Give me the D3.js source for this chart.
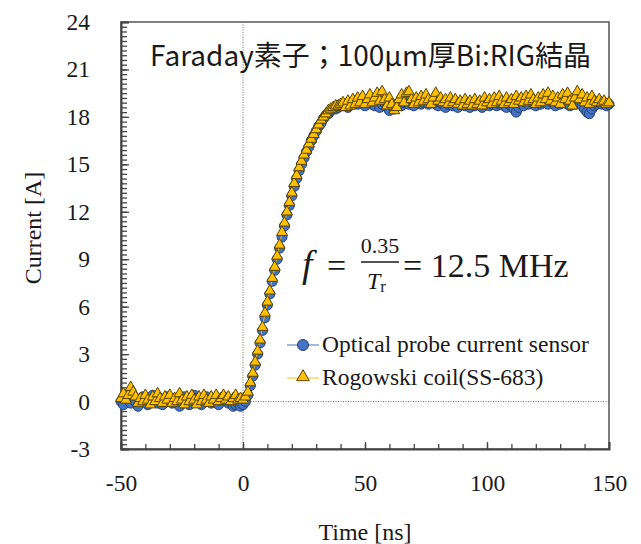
<!DOCTYPE html>
<html>
<head>
<meta charset="utf-8">
<script src="https://cdn.jsdelivr.net/npm/d3@7"></script>
<style>
  body { margin: 0; background: #fff; }
  svg text { fill: #1a1a1a; }
</style>
</head>
<body>
<div id="chart"></div>
<script>
// sample times, 1 ns step from -50 to 150
var timeNs = d3.range(-50, 151, 1);

// optical probe current sensor (blue circles), A
var opticalA = [
  0.0, -0.2, 0.3, 0.1, -0.1, 0.2, 0.0, -0.3, 0.1, 0.3,
  0.0, -0.2, 0.2, 0.4, 0.1, -0.1, 0.2, -0.2, 0.0, 0.3,
  0.1, -0.1, 0.2, 0.0, -0.3, 0.1, 0.3, 0.0, -0.2, 0.1,
  0.4, 0.2, 0.0, -0.2, 0.1, 0.3, 0.0, -0.1, 0.2, 0.0,
  -0.2, 0.1, 0.3, 0.1, -0.1, 0.0, -0.3, -0.2, -0.1, -0.3,
  -0.2, 0.0, 0.4, 1.0, 1.6, 2.3, 3.0, 3.7, 4.5, 5.3,
  6.1, 6.8, 7.6, 8.3, 9.0, 9.7, 10.4, 11.1, 11.8, 12.4,
  13.0, 13.6, 14.1, 14.6, 15.0, 15.4, 15.8, 16.1, 16.5, 16.8,
  17.1, 17.4, 17.6, 17.9, 18.1, 18.2, 18.4, 18.5, 18.5, 18.6,
  18.7, 18.7, 18.8, 18.6, 18.9, 18.8, 19.0, 18.8, 19.0, 18.9,
  18.7, 18.9, 19.0, 18.8, 18.7, 18.9, 18.6, 18.8, 18.9, 18.6,
  18.4, 18.7, 18.5, 18.8, 18.9, 18.7, 18.9, 19.0, 18.8, 18.9,
  18.7, 18.9, 19.0, 18.8, 18.9, 19.1, 18.8, 18.9, 19.0, 18.8,
  18.7, 18.9, 18.8, 18.6, 18.8, 18.9, 18.7, 18.8, 18.6, 18.8,
  18.9, 18.7, 18.8, 18.6, 18.8, 18.7, 18.9, 18.8, 18.6, 18.8,
  18.9, 18.7, 18.8, 18.9, 18.7, 18.8, 18.9, 18.7, 18.6, 18.8,
  18.7, 18.5, 18.3, 18.6, 18.8, 18.7, 18.9, 18.8, 19.0, 18.8,
  18.7, 18.9, 18.8, 19.0, 18.9, 18.8, 19.0, 18.9, 18.7, 18.9,
  18.8, 19.0, 18.9, 18.8, 18.7, 18.9, 18.8, 19.0, 18.9, 18.7,
  18.5, 18.3, 18.2, 18.5, 18.7, 18.8, 18.9, 18.8, 18.9, 18.7,
  18.8
];

// Rogowski coil SS-683 (gold triangles), A
var rogowskiA = [
  0.2, 0.5, 0.1, 0.4, 0.9, 0.6, 0.3, -0.1, 0.2, 0.0,
  0.4, 0.1, -0.2, 0.3, 0.0, 0.5, 0.2, -0.1, 0.3, 0.1,
  0.4, -0.1, 0.2, 0.0, 0.5, 0.1, -0.2, 0.3, 0.0, 0.4,
  0.1, -0.2, 0.3, 0.0, 0.4, 0.1, -0.1, 0.3, 0.1, 0.4,
  0.0, 0.2, 0.4, 0.1, 0.3, 0.0, 0.2, 0.4, 0.1, 0.2,
  0.1, 0.3, 0.6, 1.2, 1.8, 2.5, 3.2, 3.9, 4.7, 5.6,
  6.3, 7.0, 7.8, 8.5, 9.2, 9.9, 10.7, 11.3, 12.0, 12.6,
  13.2, 13.8, 14.3, 14.8, 15.2, 15.6, 15.9, 16.3, 16.6, 16.9,
  17.2, 17.5, 17.8, 18.0, 18.2, 18.4, 18.5, 18.6, 18.7, 18.7,
  18.8, 18.9, 18.6, 19.0, 18.7, 19.1, 18.8, 19.2, 18.9, 19.3,
  18.8, 19.1, 19.4, 18.9, 19.2, 19.5, 19.0, 19.6, 19.1, 18.7,
  19.2, 18.8, 18.4, 18.6, 19.1, 19.4, 18.9, 19.5, 19.6, 19.1,
  18.8, 19.2, 18.9, 19.3, 19.0, 19.4, 19.1, 18.8, 19.2, 19.5,
  19.0, 19.2, 18.9, 19.1, 18.8, 19.2, 18.9, 19.1, 18.8, 19.0,
  18.7, 19.1, 18.8, 19.0, 18.7, 19.1, 18.8, 19.0, 18.7, 19.2,
  18.9, 19.1, 18.8, 19.2, 18.9, 19.3, 19.0, 18.8, 19.2, 18.9,
  19.1, 18.8, 19.3, 19.0, 19.2, 18.9, 19.3, 19.0, 19.4, 19.1,
  18.8, 19.2, 18.9, 19.4, 19.1, 19.5, 19.0, 19.3, 18.9, 19.2,
  18.8, 19.4, 19.1, 19.5, 19.0, 18.7, 19.2, 19.6, 19.1, 19.4,
  18.9, 19.2, 18.8, 19.3, 19.0, 18.9, 19.1, 18.9, 19.0, 18.8,
  18.9
];

var xTicks = [-50, 0, 50, 100, 150];
var yTicks = [-3, 0, 3, 6, 9, 12, 15, 18, 21, 24];
var seriesNames = ["Optical probe current sensor", "Rogowski coil(SS-683)"];

var W = 641, H = 544;
var serif = "'Liberation Serif', 'Times New Roman', serif";
var blue = "#4472C4", blueEdge = "#24416f";
var gold = "#FFC000", goldEdge = "#5a4400";

var svg = d3.select("#chart").append("svg")
    .attr("width", W).attr("height", H);

var x = d3.scaleLinear().domain([-50, 150]).range([121, 609]);
var y = d3.scaleLinear().domain([-3, 24]).range([449, 22]);

// frame
svg.append("rect")
    .attr("x", x(-50)).attr("y", y(24))
    .attr("width", x(150) - x(-50)).attr("height", y(-3) - y(24))
    .attr("fill", "none").attr("stroke", "#555").attr("stroke-width", 1.5);

// dotted reference lines at t=0 and I=0
svg.append("line")
    .attr("x1", x(0)).attr("x2", x(0)).attr("y1", y(24)).attr("y2", y(-3))
    .attr("stroke", "#666").attr("stroke-width", 1).attr("stroke-dasharray", "1,1.5");
svg.append("line")
    .attr("x1", x(0)).attr("x2", x(150)).attr("y1", y(0)).attr("y2", y(0))
    .attr("stroke", "#666").attr("stroke-width", 1).attr("stroke-dasharray", "1,1.5");

// y axis: minor ticks then labelled major ticks
svg.append("g").attr("transform", "translate(" + x(-50) + ",0)")
    .call(d3.axisLeft(y).tickValues(d3.range(-3, 24.01, 0.3)).tickSize(-6).tickFormat(""))
    .call(g => g.select(".domain").remove())
    .selectAll("line").attr("stroke", "#444").attr("stroke-width", 1.3);

var yAxis = svg.append("g").attr("transform", "translate(" + x(-50) + ",0)")
    .call(d3.axisLeft(y).tickValues(yTicks).tickSize(-8).tickPadding(31).tickFormat(d => String(d)));
yAxis.select(".domain").attr("stroke", "#444").attr("stroke-width", 2);
yAxis.selectAll("line").attr("stroke", "#444").attr("stroke-width", 1.3);
yAxis.selectAll("text").attr("font-family", serif).attr("font-size", 23.5).attr("fill", "#1a1a1a");

// x axis
svg.append("g").attr("transform", "translate(0," + y(-3) + ")")
    .call(d3.axisBottom(x).tickValues(d3.range(-40, 150, 10)).tickSize(-5).tickFormat(""))
    .call(g => g.select(".domain").remove())
    .selectAll("line").attr("stroke", "#444").attr("stroke-width", 1.3);

var xAxis = svg.append("g").attr("transform", "translate(0," + y(-3) + ")")
    .call(d3.axisBottom(x).tickValues(xTicks).tickSize(-7).tickPadding(25).tickFormat(d => String(d)));
xAxis.select(".domain").attr("stroke", "#444").attr("stroke-width", 2);
xAxis.selectAll("line").attr("stroke", "#444").attr("stroke-width", 1.3);
xAxis.selectAll("text").attr("font-family", serif).attr("font-size", 23.5).attr("fill", "#1a1a1a");

// axis titles
svg.append("text")
    .attr("transform", "translate(41,228) rotate(-90)")
    .attr("text-anchor", "middle")
    .attr("font-family", serif).attr("font-size", 24)
    .text("Current [A]");
svg.append("text")
    .attr("x", 365).attr("y", 540)
    .attr("text-anchor", "middle")
    .attr("font-family", serif).attr("font-size", 24)
    .text("Time [ns]");

// series
var line = d3.line().x(d => x(d[0])).y(d => y(d[1]));
var optData = timeNs.map((t, i) => [t, opticalA[i]]);
var rogData = timeNs.map((t, i) => [t, rogowskiA[i]]);

svg.append("path").datum(optData)
    .attr("d", line).attr("fill", "none").attr("stroke", blue).attr("stroke-width", 1);
svg.append("g").selectAll("circle").data(optData).enter().append("circle")
    .attr("cx", d => x(d[0])).attr("cy", d => y(d[1])).attr("r", 5)
    .attr("fill", blue).attr("stroke", blueEdge).attr("stroke-width", 1);

var tri = d3.symbol().type(d3.symbolTriangle).size(52);
svg.append("path").datum(rogData)
    .attr("d", line).attr("fill", "none").attr("stroke", gold).attr("stroke-width", 1);
svg.append("g").selectAll("path").data(rogData).enter().append("path")
    .attr("d", tri)
    .attr("transform", d => "translate(" + x(d[0]) + "," + y(d[1]) + ")")
    .attr("fill", gold).attr("stroke", goldEdge).attr("stroke-width", 1);

// legend
var leg = svg.append("g");
[0, 1].forEach(function(i) {
  var ly = 345 + i * 33;
  leg.append("line").attr("x1", 287).attr("x2", 319).attr("y1", ly).attr("y2", ly)
      .attr("stroke", i ? gold : blue).attr("stroke-width", 1);
  if (i === 0) {
    leg.append("circle").attr("cx", 303).attr("cy", ly).attr("r", 5.5)
        .attr("fill", blue).attr("stroke", blueEdge).attr("stroke-width", 1);
  } else {
    leg.append("path").attr("d", d3.symbol().type(d3.symbolTriangle).size(70))
        .attr("transform", "translate(303," + (ly - 1) + ")")
        .attr("fill", gold).attr("stroke", goldEdge).attr("stroke-width", 1);
  }
  leg.append("text").attr("x", 322).attr("y", ly + 7)
      .attr("font-family", serif).attr("font-size", 23.5)
      .text(seriesNames[i]);
});

// title annotation
svg.append("text")
    .attr("x", 150).attr("y", 66)
    .attr("font-family", "'Noto Sans CJK JP', 'Noto Sans', sans-serif").attr("font-size", 28)
    .text("Faraday素子；100μm厚Bi:RIG結晶");

// rise-time formula
var fm = svg.append("g").attr("font-family", serif);
fm.append("text").attr("x", 302).attr("y", 277).attr("font-size", 38)
    .attr("font-style", "italic").text("f");
fm.append("text").attr("x", 327).attr("y", 277).attr("font-size", 34).text("=");
fm.append("text").attr("x", 380).attr("y", 253).attr("font-size", 22)
    .attr("text-anchor", "middle").text("0.35");
fm.append("line").attr("x1", 361).attr("x2", 399).attr("y1", 262).attr("y2", 262)
    .attr("stroke", "#1a1a1a").attr("stroke-width", 1.4);
var tr = fm.append("text").attr("x", 367).attr("y", 289).attr("font-size", 24);
tr.append("tspan").attr("font-style", "italic").text("T");
tr.append("tspan").attr("font-size", 17).attr("dy", 3).text("r");
fm.append("text").attr("x", 403).attr("y", 277).attr("font-size", 34).text("= 12.5 MHz");
</script>
</body>
</html>
